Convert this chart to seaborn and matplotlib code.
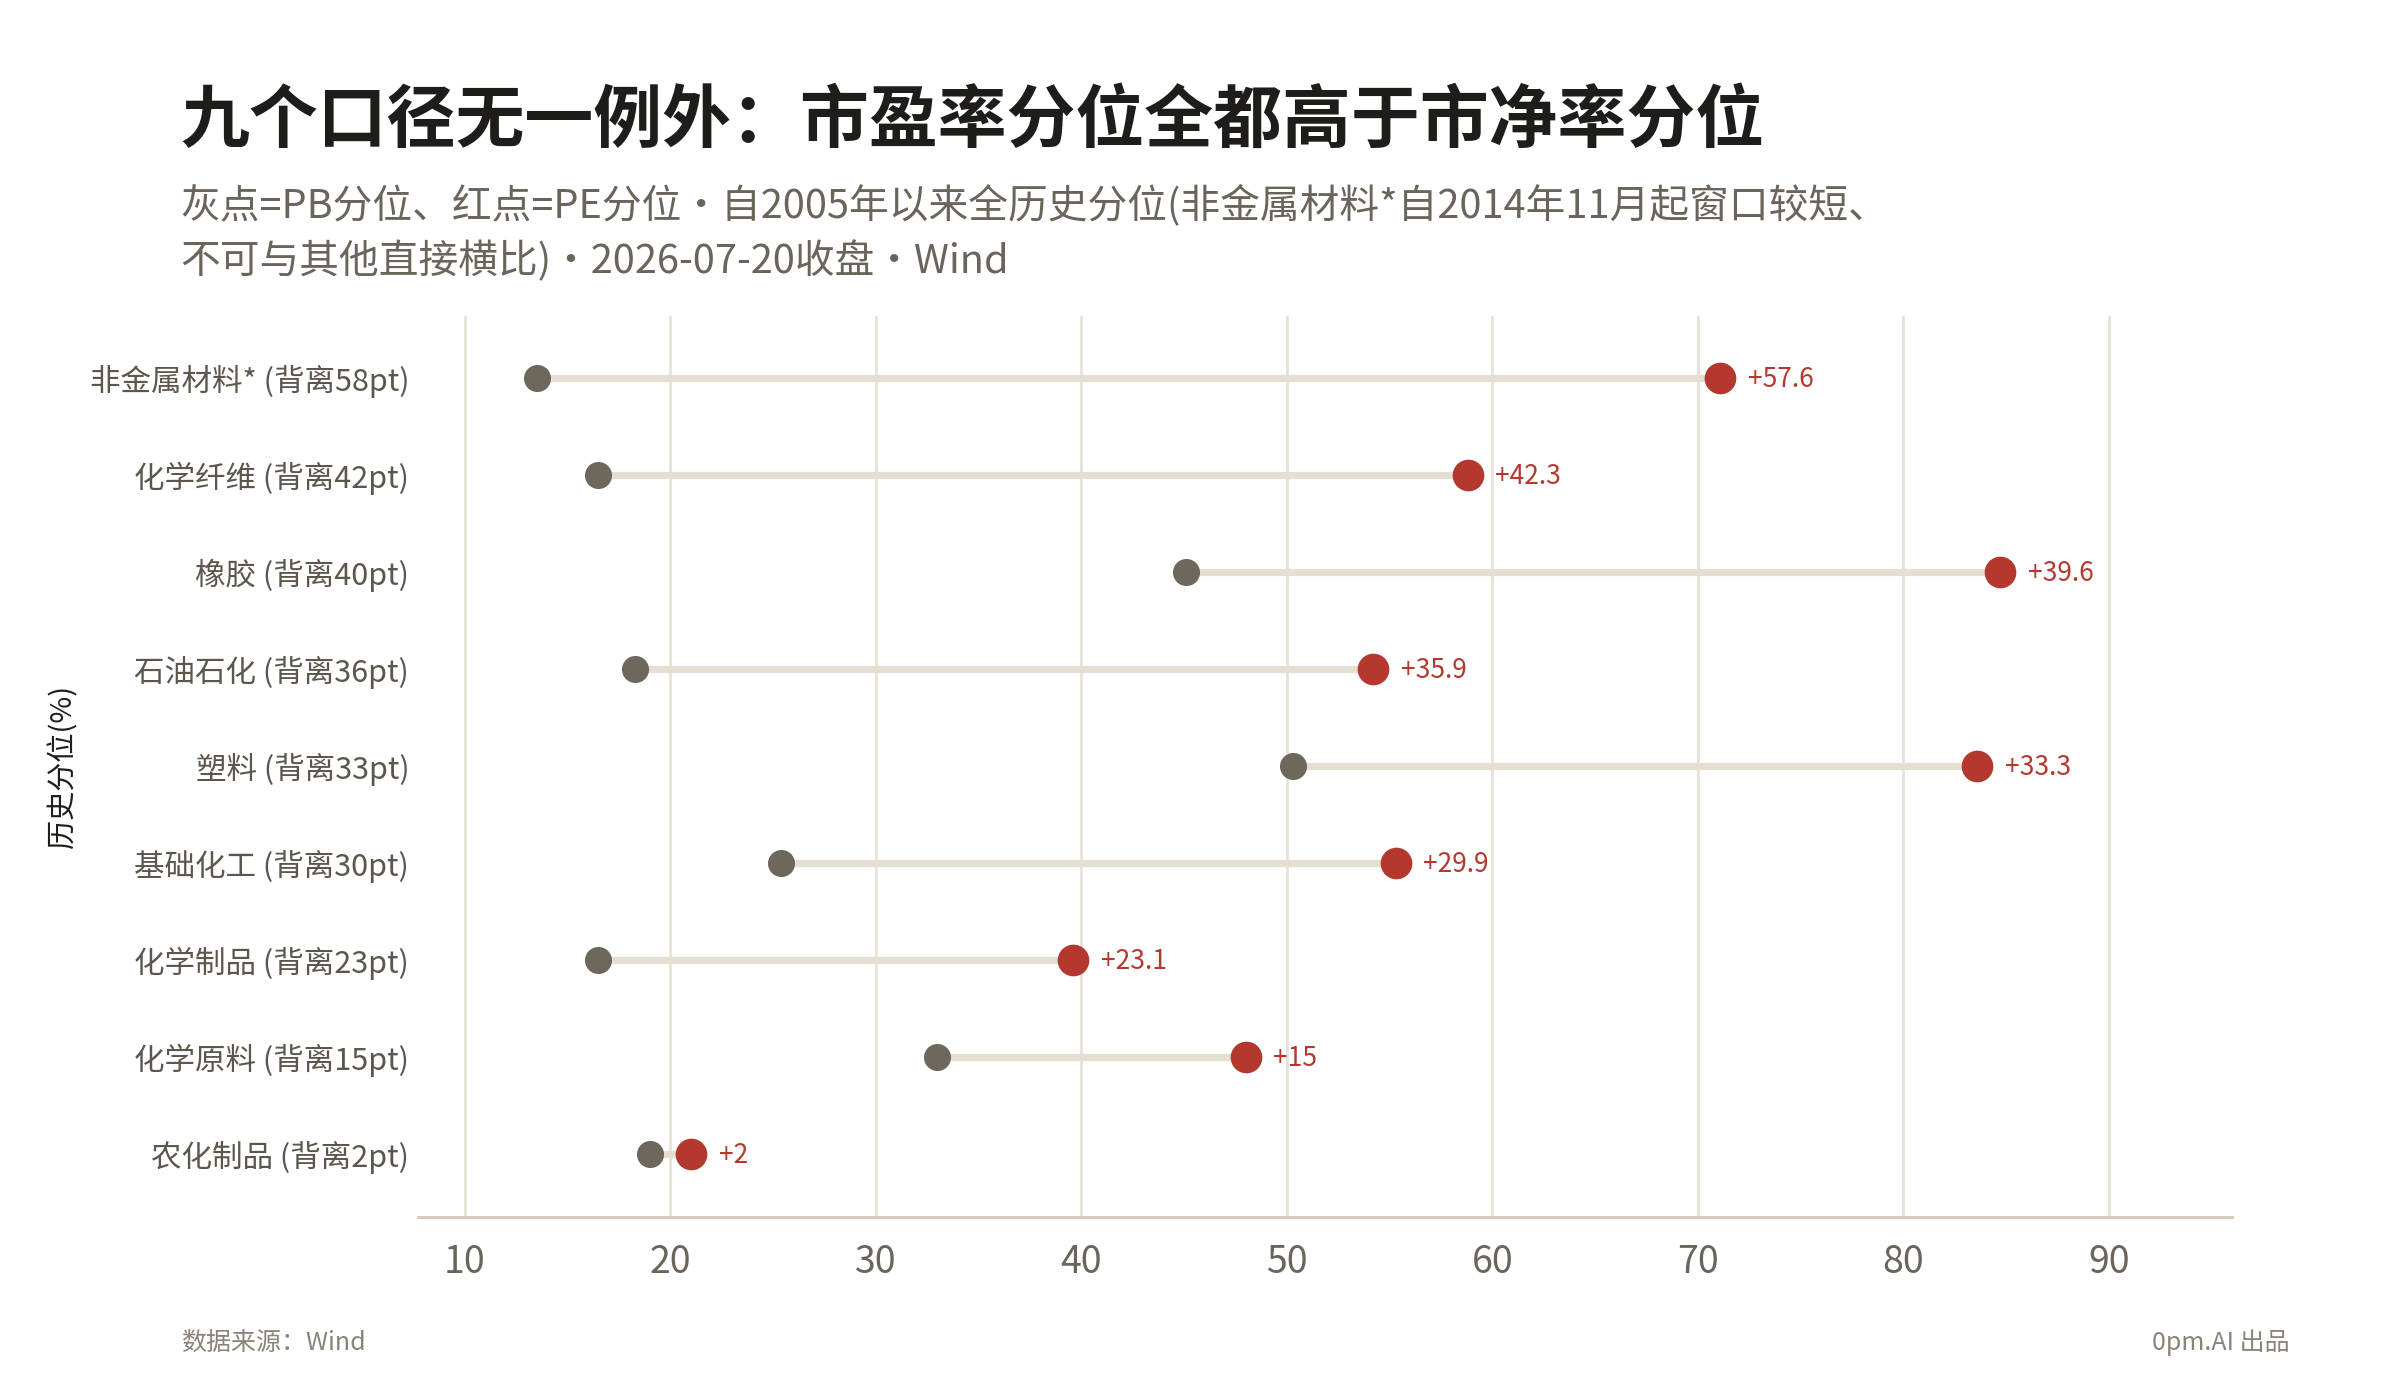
import pandas as pd
import matplotlib
matplotlib.use("Agg")
import matplotlib.pyplot as plt
import seaborn as sns

# dados
categorias = ["非金属材料* (背离58pt)", "化学纤维 (背离42pt)", "橡胶 (背离40pt)",
              "石油石化 (背离36pt)", "塑料 (背离33pt)", "基础化工 (背离30pt)",
              "化学制品 (背离23pt)", "化学原料 (背离15pt)", "农化制品 (背离2pt)"]
pb_pct = [13.5, 16.5, 45.1, 18.3, 50.3, 25.4, 16.5, 33.0, 19.0]
pe_pct = [71.1, 58.8, 84.7, 54.2, 83.6, 55.3, 39.6, 48.0, 21.0]
rotulos = ["+57.6", "+42.3", "+39.6", "+35.9", "+33.3", "+29.9", "+23.1", "+15", "+2"]
xticks = [10, 20, 30, 40, 50, 60, 70, 80, 90]

df = pd.DataFrame({"cat": categorias, "pb": pb_pct, "pe": pe_pct, "rot": rotulos})
df["y"] = range(len(df))

VERMELHO = "#b5382e"
CINZA = "#6e675c"
LINHA = "#e5ded2"
GRADE = "#e8e1d6"

sns.set_theme(style="white")
plt.rcParams["font.family"] = ["Noto Sans CJK SC", "DejaVu Sans"]

fig = plt.figure(figsize=(12, 7), dpi=200)
ax = fig.add_axes([0.174, 0.131, 0.756, 0.643])

# grade vertical
for t in xticks:
    ax.axvline(t, color=GRADE, lw=1.0, zorder=0)

# hastes entre PB e PE
ax.hlines(df["y"], df["pb"], df["pe"], color=LINHA, lw=2.6, zorder=1)

sns.scatterplot(data=df, x="pb", y="y", color=CINZA, s=95, linewidth=0, ax=ax, zorder=3)
sns.scatterplot(data=df, x="pe", y="y", color=VERMELHO, s=130, linewidth=0, ax=ax, zorder=4)

for _, r in df.iterrows():
    ax.annotate(r["rot"], (r["pe"], r["y"]), xytext=(10, -0.8), textcoords="offset points",
                va="center", ha="left", fontsize=9.5, color=VERMELHO)

ax.set_xlim(7.7, 96)
ax.set_ylim(len(df) - 0.35, -0.63)
ax.set_xticks(xticks)
ax.set_xticklabels([str(t) for t in xticks], fontsize=13.5, color="#6b645b")
ax.set_yticks(df["y"])
ax.set_yticklabels(df["cat"], fontsize=11.0, color="#5d564d")
ax.tick_params(axis="x", length=3.5, width=0.8, color="#5a5249", pad=6)
ax.tick_params(axis="y", length=0, pad=3)
ax.set_xlabel("")
ax.set_ylabel("历史分位(%)", fontsize=10.5, color="#1f1d1a")
ax.yaxis.set_label_coords(-0.187, 0.5)

for s in ["top", "right", "left"]:
    ax.spines[s].set_visible(False)
ax.spines["bottom"].set_color("#d3c8b6")
ax.spines["bottom"].set_linewidth(1.0)

fig.text(0.0753, 0.913, "九个口径无一例外：市盈率分位全都高于市净率分位",
         fontsize=24.8, fontweight="bold", color="#1f1d1a", va="center", ha="left")
fig.text(0.0753, 0.853, "灰点=PB分位、红点=PE分位・自2005年以来全历史分位(非金属材料*自2014年11月起窗口较短、",
         fontsize=14.3, color="#6b645b", va="center", ha="left")
fig.text(0.0753, 0.813, "不可与其他直接横比)・2026-07-20收盘・Wind",
         fontsize=14.3, color="#6b645b", va="center", ha="left")

fig.text(0.0753, 0.041, "数据来源：Wind", fontsize=9, color="#8a8378", va="center", ha="left")
fig.text(0.954, 0.041, "0pm.AI 出品", fontsize=9, color="#8a8378", va="center", ha="right")

fig.savefig("out.png", dpi=200, facecolor="white")
